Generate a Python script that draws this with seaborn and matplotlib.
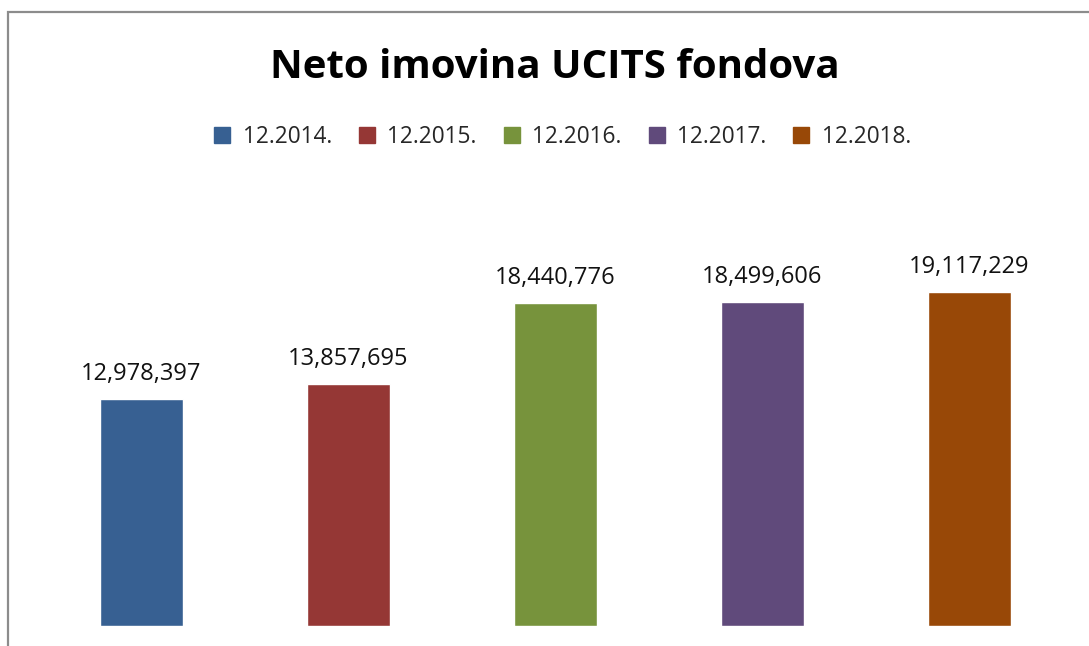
import matplotlib
matplotlib.use('Agg')
import matplotlib.pyplot as plt
from matplotlib.patches import Rectangle
from matplotlib.lines import Line2D
import pandas as pd
import seaborn as sns

periods = ['12.2014.', '12.2015.', '12.2016.', '12.2017.', '12.2018.']
net_assets = [12978397, 13857695, 18440776, 18499606, 19117229]
colors = ['#376092', '#953735', '#77933C', '#604A7B', '#984807']

df = pd.DataFrame({'period': periods, 'value': net_assets})

sns.set_theme(style='white')
plt.rcParams['font.family'] = ['Open Sans', 'DejaVu Sans']

W, H = 1089, 646
fig = plt.figure(figsize=(W / 100, H / 100), dpi=100)
# axes placed in pixel coords: x 38..1073, baseline at y=626, top at y=200
ax = fig.add_axes([38 / W, (H - 626) / H, (1073 - 38) / W, (626 - 200) / H])

sns.barplot(data=df, x='period', y='value', hue='period', palette=colors,
            order=periods, hue_order=periods, width=0.4, dodge=False,
            legend=False, saturation=1, ax=ax)

ax.set_ylim(0, 426 / 17.49 * 1e6)
ax.set_xlim(-0.5, len(periods) - 0.5)
for i, v in enumerate(net_assets):
    ax.text(i, v + 0.75e6, f'{v:,}', ha='center', va='bottom', fontsize=17,
            color='#111111')

ax.axis('off')

# title and legend
fig.text(555 / W, 1 - 68 / H, 'Neto imovina UCITS fondova', ha='center', va='center',
         fontsize=29, fontweight='bold', color='black')
handles = [Line2D([], [], marker='s', linestyle='none', markersize=11,
                  markerfacecolor=c, markeredgecolor=c) for c in colors]
fig.legend(handles, periods, loc='center', bbox_to_anchor=(561 / W, 1 - 137 / H),
           ncol=5, frameon=False, fontsize=16.3, handletextpad=0.4, columnspacing=1.05,
           handlelength=1.0)

# chart frame (cropped at right and bottom)
fig.patches.append(Rectangle((8 / W, -0.1), 1.2, 1 - 12 / H + 0.1,
                             transform=fig.transFigure, fill=False,
                             edgecolor='#8c8c8c', linewidth=1.6))

fig.savefig('out.png', dpi=100)
